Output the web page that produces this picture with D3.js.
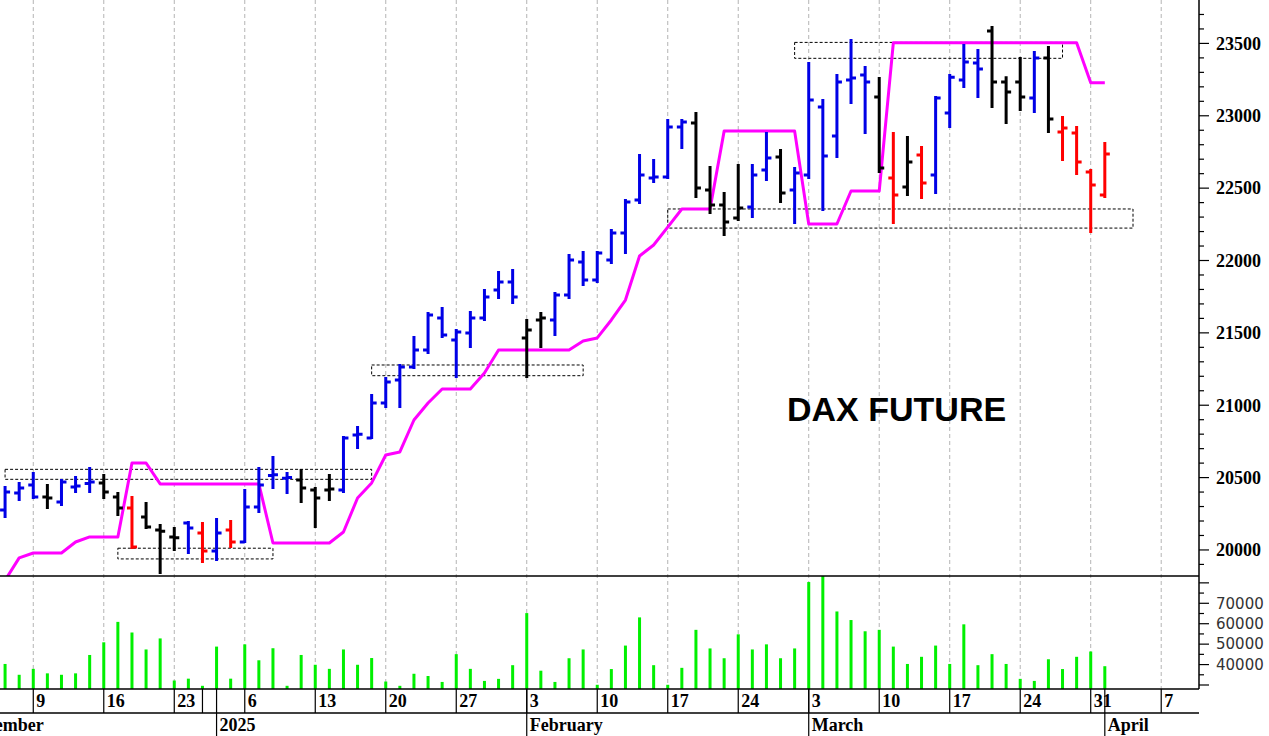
<!DOCTYPE html>
<html>
<head>
  <meta charset="UTF-8">
  <style>
body {
    margin: 0;
    background: #ffffff;
}
svg {
    display: block;
}
.price-label, .day-label, .month-label {
    font-family: "Liberation Serif", "Times New Roman", serif;
    font-weight: bold;
    font-size: 18px;
    fill: #000;
}
.vol-label {
    font-family: "DejaVu Sans", Verdana, sans-serif;
    font-size: 15px;
    fill: #333;
}
.title {
    font-family: "Liberation Sans", Arial, sans-serif;
    font-weight: bold;
    font-size: 34px;
    fill: #000;
}
  </style>
</head>
<body>
<svg id="chart"></svg>

<script src="https://d3js.org/d3.v7.min.js"></script>
<script>

// ---- data ----
let dates = ["2024-12-05","2024-12-06","2024-12-09","2024-12-10","2024-12-11","2024-12-12","2024-12-13",
  "2024-12-16","2024-12-17","2024-12-18","2024-12-19","2024-12-20","2024-12-23","2024-12-27","2024-12-30",
  "2025-01-02","2025-01-03","2025-01-06","2025-01-07","2025-01-08","2025-01-09","2025-01-10",
  "2025-01-13","2025-01-14","2025-01-15","2025-01-16","2025-01-17","2025-01-20","2025-01-21","2025-01-22",
  "2025-01-23","2025-01-24","2025-01-27","2025-01-28","2025-01-29","2025-01-30","2025-01-31",
  "2025-02-03","2025-02-04","2025-02-05","2025-02-06","2025-02-07","2025-02-10","2025-02-11","2025-02-12",
  "2025-02-13","2025-02-14","2025-02-17","2025-02-18","2025-02-19","2025-02-20","2025-02-21",
  "2025-02-24","2025-02-25","2025-02-26","2025-02-27","2025-02-28",
  "2025-03-03","2025-03-04","2025-03-05","2025-03-06","2025-03-07","2025-03-10","2025-03-11","2025-03-12",
  "2025-03-13","2025-03-14","2025-03-17","2025-03-18","2025-03-19","2025-03-20","2025-03-21",
  "2025-03-24","2025-03-25","2025-03-26","2025-03-27","2025-03-28","2025-03-31","2025-04-01"];

let open = [20276,20394,20449,20366,20332,20435,20460,20463,20366,20290,20228,20138,20090,20187,20117,
  19993,20138,20055,20297,20515,20495,20484,20414,20414,20414,20794,20774,21015,21174,21264,
  21382,21603,21451,21499,21603,21796,21851,
  21464,21589,21589,21761,21990,21865,22003,22190,22418,22570,22577,22922,22950,22487,22383,
  22293,22370,22625,22715,22487,
  22591,23060,22860,23247,23281,23129,22570,22508,22729,22591,23019,23247,23364,23585,23233,
  23233,23122,23399,22888,22881,22611,22452];

let high = [20435,20463,20532,20449,20484,20504,20566,20518,20394,20366,20325,20173,20152,20193,20187,
  20214,20200,20414,20566,20642,20532,20553,20428,20518,20781,20850,21071,21188,21278,21471,
  21637,21672,21520,21644,21796,21920,21934,
  21589,21637,21775,22038,22059,22059,22211,22418,22729,22694,22970,22970,23019,22646,22466,
  22660,22660,22881,22763,22639,
  23364,23109,23281,23523,23337,23261,22881,22853,22784,23129,23281,23489,23454,23613,23267,
  23399,23440,23475,22991,22922,22625,22812];

let low = [20228,20345,20359,20290,20311,20401,20401,20359,20242,20014,20152,19841,20000,19979,19917,
  19931,20021,20055,20262,20428,20394,20332,20159,20345,20401,20705,20774,20988,20988,21257,
  21361,21471,21195,21402,21589,21741,21706,
  21195,21402,21485,21741,21831,21851,21983,22052,22397,22542,22570,22777,22439,22328,22176,
  22280,22300,22556,22404,22259,
  22570,22349,22715,23088,22881,22611,22259,22452,22432,22466,22922,23198,23129,23060,22950,
  23040,23026,22888,22694,22597,22197,22439];

let close = [20401,20428,20366,20359,20470,20442,20470,20401,20290,20021,20159,20130,20085,20152,19993,
  20117,20055,20297,20449,20520,20500,20428,20359,20421,20774,20800,21015,21161,21264,21382,
  21623,21485,21506,21603,21748,21851,21748,
  21520,21603,21761,22003,21865,22052,22190,22404,22590,22577,22922,22957,22501,22383,22266,
  22363,22590,22708,22466,22604,
  23109,22722,23233,23261,23233,22639,22452,22680,22535,23122,23267,23371,23323,23233,23164,
  23129,23399,22977,22915,22680,22522,22736];

// bar colour signal: "up" = blue, "flat" = black, "down" = red
let signal = ["up","up","up","flat","up","up","up","flat","flat","down","flat","flat","flat","up","down",
  "up","down","up","up","up","up","flat","flat","flat","up","up","up","up","up","up",
  "up","up","up","up","up","up","up",
  "flat","flat","up","up","up","up","up","up","up","up","up","up","flat","flat","flat",
  "flat","up","up","flat","up",
  "up","up","up","up","up","flat","down","flat","down","up","up","up","up","flat","flat",
  "flat","up","flat","down","down","down","down"];

// magenta trailing line
let stopLine = [19790,19945,19979,19979,19979,20055,20090,20090,20090,20601,20601,20456,20456,20456,20456,
  20456,20456,20456,20456,20048,20048,20048,20048,20048,20124,20359,20463,20656,20677,20898,
  21015,21112,21112,21112,21223,21382,21382,
  21382,21382,21382,21382,21444,21465,21589,21727,22031,22107,22231,22356,22356,22356,22894,
  22894,22894,22894,22894,22894,
  22252,22252,22252,22480,22480,22480,23504,23504,23504,23504,23504,23504,23504,23504,23504,
  23504,23504,23504,23504,23504,23228,23228];

let volume = [40300,35000,37900,35700,35000,35700,44700,50900,60900,55700,47400,52800,32200,33100,29600,
  48800,33100,49900,42100,48000,29600,44700,39900,37900,47400,39900,43200,31700,29600,35500,
  34400,31500,45100,37900,32000,33000,39700,
  65200,37000,31500,43100,47400,30100,37800,49300,63100,39700,30100,38400,57000,47900,43100,
  54800,47400,49900,43100,47900,
  80400,84000,66000,61800,56300,57000,48800,40300,43800,49300,40300,59700,39700,45100,40300,
  33000,32000,42600,37800,43800,46400,39200];

// dashed range boxes
let boxStart = ["2024-12-05","2024-12-17","2025-01-17","2025-02-17","2025-02-28"];
let boxEnd   = ["2025-01-17","2025-01-08","2025-02-07","2025-04-03","2025-03-27"];
let boxHigh  = [20557,20012,21278,22356,23507];
let boxLow   = [20488,19938,21204,22224,23397];

// axes
let priceTicks = [20000,20500,21000,21500,22000,22500,23000,23500];
let volumeTicks = [40000,50000,60000,70000];
let weekTicks = ["2024-12-09","2024-12-16","2024-12-23","2024-12-30","2025-01-06","2025-01-13","2025-01-20",
  "2025-01-27","2025-02-03","2025-02-10","2025-02-17","2025-02-24","2025-03-03","2025-03-10","2025-03-17",
  "2025-03-24","2025-03-31","2025-04-07"];
let weekLabels = ["9","16","23","","6","13","20","27","3","10","17","24","3","10","17","24","31","7"];
let monthTicks = ["2024-12-02","2025-01-02","2025-02-03","2025-03-03","2025-04-01"];
let monthLabels = ["December","2025","February","March","April"];
let holidays = ["2024-12-24","2024-12-25","2024-12-26","2024-12-31","2025-01-01"];

// ---- layout ----
let width = 1269, height = 736;
let plotRight = 1199;
let priceBottom = 576, volBottom = 689, tickRowBottom = 713;

let svg = d3.select("#chart")
    .attr("width", width)
    .attr("height", height)
    .attr("viewBox", "0 0 " + width + " " + height);

// trading-day calendar -> index used on the x axis
let fmt = d3.timeFormat("%Y-%m-%d");
let days = d3.timeDays(new Date(2024, 11, 2), new Date(2025, 3, 12))
    .filter(d => d.getDay() != 0 && d.getDay() != 6 && !holidays.includes(fmt(d)))
    .map(fmt);
let dayIndex = {};
days.forEach((d, i) => dayIndex[d] = i);

let x = d3.scaleLinear().domain([2.64, 87.68]).range([0, plotRight]);
let xd = d => x(dayIndex[d]);

let y = d3.scaleLinear().domain([19820, 23800]).range([priceBottom, 0]);
let yv = d3.scaleLinear().domain([28040, 83360]).range([volBottom, priceBottom]);

let colors = { up: "#0000e6", flat: "#000000", down: "#ff0000" };

svg.append("clipPath").attr("id", "priceClip")
  .append("rect").attr("x", 0).attr("y", 0).attr("width", plotRight).attr("height", priceBottom);
svg.append("clipPath").attr("id", "volClip")
  .append("rect").attr("x", 0).attr("y", priceBottom).attr("width", plotRight).attr("height", volBottom - priceBottom);

// vertical dashed grid at labelled weeks
svg.append("g")
  .selectAll("line")
  .data(weekTicks.filter((d, i) => weekLabels[i] != ""))
  .enter()
  .append("line")
    .attr("x1", d => xd(d)).attr("x2", d => xd(d))
    .attr("y1", 0).attr("y2", volBottom)
    .style("stroke", "#b4b4b4")
    .style("stroke-width", 1)
    .style("stroke-dasharray", "4,3");

// range boxes
svg.append("g")
  .selectAll("rect")
  .data(boxStart)
  .enter()
  .append("rect")
    .attr("x", d => xd(d))
    .attr("y", (d, i) => y(boxHigh[i]))
    .attr("width", (d, i) => xd(boxEnd[i]) - xd(d))
    .attr("height", (d, i) => y(boxLow[i]) - y(boxHigh[i]))
    .style("fill", "none")
    .style("stroke", "#000")
    .style("stroke-width", 1)
    .style("stroke-dasharray", "3,2");

// magenta trailing line
let line = d3.line()
    .x((d, i) => xd(dates[i]))
    .y(d => y(d));

svg.append("path")
    .attr("clip-path", "url(#priceClip)")
    .attr("d", line(stopLine))
    .style("fill", "none")
    .style("stroke", "#ff00ff")
    .style("stroke-width", 3)
    .style("stroke-linejoin", "round");

// OHLC bars
let tick = 5;
svg.append("g")
    .attr("clip-path", "url(#priceClip)")
  .selectAll("path")
  .data(dates)
  .enter()
  .append("path")
    .attr("d", (d, i) => {
        let cx = xd(d);
        return "M" + cx + "," + (y(high[i]) - 1) + "V" + (y(low[i]) + 1) +
               "M" + (cx - tick) + "," + y(open[i]) + "H" + cx +
               "M" + cx + "," + y(close[i]) + "H" + (cx + tick);
    })
    .style("fill", "none")
    .style("stroke", (d, i) => colors[signal[i]])
    .style("stroke-width", 3);

// volume bars
svg.append("g")
    .attr("clip-path", "url(#volClip)")
  .selectAll("rect")
  .data(volume)
  .enter()
  .append("rect")
    .attr("x", (d, i) => xd(dates[i]) - 1.5)
    .attr("y", d => yv(d))
    .attr("width", 3)
    .attr("height", d => volBottom - yv(d))
    .style("fill", "#00f000");

// frame lines
let frame = svg.append("g").style("stroke", "#000").style("stroke-width", 1.5);
frame.append("line").attr("x1", 0).attr("x2", plotRight).attr("y1", priceBottom).attr("y2", priceBottom);
frame.append("line").attr("x1", 0).attr("x2", plotRight).attr("y1", volBottom).attr("y2", volBottom);
frame.append("line").attr("x1", 0).attr("x2", plotRight).attr("y1", tickRowBottom).attr("y2", tickRowBottom);
frame.append("line").attr("x1", plotRight).attr("x2", plotRight).attr("y1", 0).attr("y2", volBottom);

// price axis (right)
let priceAxis = svg.append("g").attr("transform", "translate(" + plotRight + ",0)");
priceAxis.selectAll("line")
  .data(d3.range(19900, 23800, 100))
  .enter()
  .append("line")
    .attr("x1", 0)
    .attr("x2", d => d % 500 == 0 ? 10 : 5)
    .attr("y1", d => y(d)).attr("y2", d => y(d))
    .style("stroke", "#000")
    .style("stroke-width", 1.2);
priceAxis.selectAll("text")
  .data(priceTicks)
  .enter()
  .append("text")
    .attr("class", "price-label")
    .attr("x", 17)
    .attr("y", d => y(d))
    .attr("dy", "0.35em")
    .text(d => d);

// volume axis (right)
let volAxis = svg.append("g").attr("transform", "translate(" + plotRight + ",0)");
volAxis.selectAll("line")
  .data(d3.range(30000, 85000, 5000))
  .enter()
  .append("line")
    .attr("x1", 0)
    .attr("x2", d => d % 10000 == 0 ? 10 : 5)
    .attr("y1", d => yv(d)).attr("y2", d => yv(d))
    .style("stroke", "#000")
    .style("stroke-width", 1.2);
volAxis.selectAll("text")
  .data(volumeTicks)
  .enter()
  .append("text")
    .attr("class", "vol-label")
    .attr("x", 17)
    .attr("y", d => yv(d))
    .attr("dy", "0.35em")
    .text(d => d);

// date axis: week row and month row
let dateAxis = svg.append("g");
dateAxis.selectAll(".week")
  .data(weekTicks)
  .enter()
  .append("line")
    .attr("x1", d => xd(d)).attr("x2", d => xd(d))
    .attr("y1", volBottom).attr("y2", tickRowBottom)
    .style("stroke", "#000")
    .style("stroke-width", 1.2);
dateAxis.selectAll(".day-label")
  .data(weekTicks)
  .enter()
  .append("text")
    .attr("class", "day-label")
    .attr("x", d => xd(d) + 3)
    .attr("y", 707)
    .text((d, i) => weekLabels[i]);
dateAxis.selectAll(".month")
  .data(monthTicks)
  .enter()
  .append("line")
    .attr("x1", d => xd(d)).attr("x2", d => xd(d))
    .attr("y1", volBottom).attr("y2", height)
    .style("stroke", "#000")
    .style("stroke-width", 1.2);
dateAxis.selectAll(".month-label")
  .data(monthTicks)
  .enter()
  .append("text")
    .attr("class", "month-label")
    .attr("x", d => xd(d) + 3)
    .attr("y", 731)
    .text((d, i) => monthLabels[i]);

// chart title
svg.append("text")
    .attr("class", "title")
    .attr("x", 787)
    .attr("y", 421)
    .text("DAX FUTURE");

</script>
</body>
</html>
